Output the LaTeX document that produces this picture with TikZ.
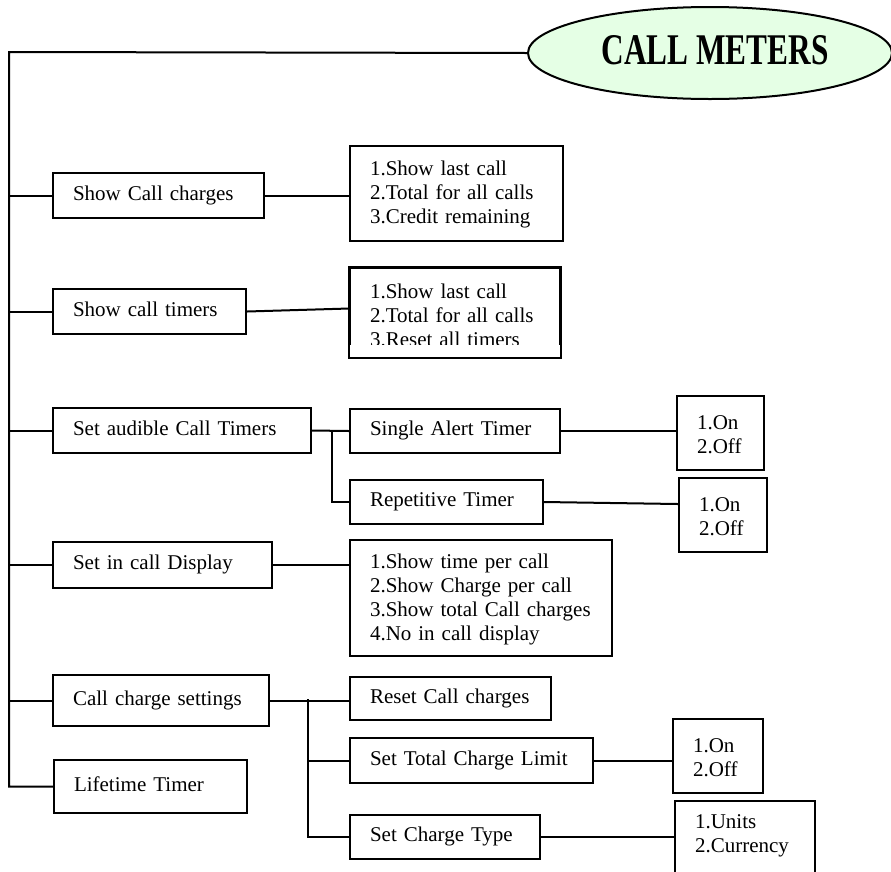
\documentclass[tikz,border=0pt]{standalone}
\usepackage{fontspec}
\usepackage{graphicx}
\setmainfont{Liberation Serif}
\usetikzlibrary{shapes.geometric}
\definecolor{cmfill}{RGB}{229,255,229}
\begin{document}
\begin{tikzpicture}[x=1pt,y=-1pt,
  box/.style={draw, line width=2pt, rectangle, anchor=north west, inner xsep=20pt, inner ysep=0pt,
              align=left, font=\fontsize{21}{24}\selectfont, execute at begin node=\strut},
  conn/.style={line width=2pt},
  title/.style={ellipse, draw, line width=2pt, fill=cmfill, minimum width=364pt, minimum height=92pt, inner sep=0pt}
]
\useasboundingbox (0,0) rectangle (891,871);
\clip (0,0) rectangle (891,871);

% title
\node[title] (cm) at (710,53) {\raisebox{7pt}{\hspace*{10pt}\fontsize{31.3}{36}\selectfont\bfseries\scalebox{1}[1.4]{CALL METERS}}};

% level 1
\node[box, minimum width=211pt, minimum height=45pt, text width=171pt] (scc) at (52,172) {Show~Call~charges};
\node[box, minimum width=193pt, minimum height=45pt, text width=153pt] (sct) at (52,288) {Show~call~timers};
\node[box, minimum width=258pt, minimum height=45pt, text width=218pt] (sat) at (52,407) {Set~audible~Call~Timers};
\node[box, minimum width=219pt, minimum height=46pt, text width=179pt] (scd) at (52,541) {Set~in~call~Display};
\node[box, minimum width=216pt, minimum height=51pt, text width=176pt] (ccs) at (52,674) {Call~charge~settings};
\node[box, minimum width=193pt, minimum height=53pt, text width=153pt] (lt) at (53,759) {Lifetime~Timer};

% level 2
\node[box, minimum width=213pt, minimum height=95pt, text width=173pt] (b1) at (349,145) {1.Show~last~call\\2.Total~for~all~calls\\3.Credit~remaining};
\begin{scope}
  \clip (340,260) rectangle (570,344);
  \node[box, minimum width=210pt, minimum height=89pt, text width=170pt] (b2) at (349,267) {\raisebox{-3pt}{1.Show~last~call}\\\raisebox{-3pt}{2.Total~for~all~calls}\\\raisebox{-3pt}{3.Reset~all~timers}};
\end{scope}
\draw[line width=2pt] (b2.north west) rectangle (b2.south east);
\node[box, minimum width=210pt, minimum height=44pt, text width=170pt] (sal) at (349,408) {Single~Alert~Timer};
\node[box, minimum width=193pt, minimum height=44pt, text width=153pt] (rep) at (349,479) {Repetitive~Timer};
\node[box, minimum width=262pt, minimum height=116pt, text width=222pt] (disp) at (349,539) {1.Show~time~per~call\\2.Show~Charge~per~call\\3.Show~total~Call~charges\\4.No~in~call~display};
\node[box, minimum width=201pt, minimum height=43pt, text width=161pt] (rcc) at (349,676) {Reset~Call~charges};
\node[box, minimum width=243pt, minimum height=45pt, text width=203pt] (stl) at (349,737) {Set~Total~Charge~Limit};
\node[box, minimum width=190pt, minimum height=44pt, text width=150pt] (sty) at (349,814) {Set~Charge~Type};

% level 3
\node[box, minimum width=87pt, minimum height=74pt, text width=47pt] (oo1) at (676,395) {1.On\\2.Off};
\node[box, minimum width=88pt, minimum height=74pt, text width=48pt] (oo2) at (678,477) {1.On\\2.Off};
\node[box, minimum width=90pt, minimum height=74pt, text width=50pt] (oo3) at (672,718) {1.On\\2.Off};
\node[box, minimum width=140pt, minimum height=94pt, text width=100pt] (un) at (674,800) {1.Units\\2.Currency\\\strut};

% trunk
\coordinate (tk) at (9,52);
\draw[conn] (cm.west) -- (tk) |- (lt.west);
\foreach \n in {scc,sct,sat,scd,ccs}{
  \draw[conn] (\n.west) -- (\n.west -| tk);
}

% level 1 -> level 2
\draw[conn] (scc.east) -- (scc.east -| b1.west);
\draw[conn] (sct.east) -- ([yshift=3pt]sct.east -| b2.west);
\draw[conn] (sat.east) -- (sal.west);
\coordinate (br1) at (332,430);
\draw[conn] (br1) |- (rep.west);
\draw[conn] (scd.east) -- (scd.east -| disp.west);
\draw[conn] (ccs.east) -- (ccs.east -| rcc.west);
\coordinate (br2) at (308,699);
\draw[conn] (br2) |- (stl.west);
\draw[conn] (br2) |- (sty.west);

% level 2 -> level 3
\draw[conn] (sal.east) -- (sal.east -| oo1.west);
\draw[conn] (rep.east) -- ([yshift=11pt]oo2.west);
\draw[conn] (stl.east) -- (stl.east -| oo3.west);
\draw[conn] (sty.east) -- (sty.east -| un.west);
\end{tikzpicture}
\end{document}
